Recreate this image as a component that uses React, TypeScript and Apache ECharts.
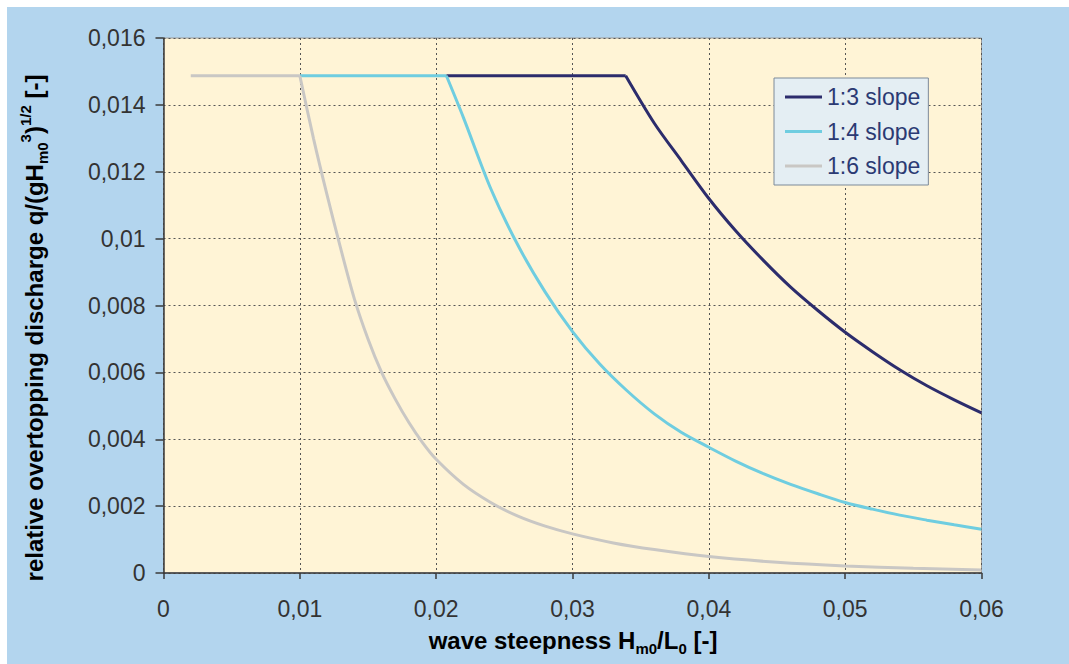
import React, { useEffect, useRef } from "react";
import * as echarts from "echarts";

// ---- data ----
const seriesNames = ["1:3 slope", "1:4 slope", "1:6 slope"];

// [wave steepness, relative overtopping discharge]; first two points = plateau
const slope13: [number, number][] = [
  [0.02075, 0.01487], [0.0339, 0.01487], [0.036, 0.01345], [0.038, 0.01232],
  [0.040, 0.0112], [0.042, 0.01022], [0.044, 0.00935], [0.046, 0.00855],
  [0.048, 0.00785], [0.050, 0.0072], [0.052, 0.00662], [0.054, 0.00608],
  [0.056, 0.0056], [0.058, 0.00518], [0.060, 0.00479],
];
const slope14: [number, number][] = [
  [0.010, 0.01487], [0.02075, 0.01487], [0.022, 0.01362], [0.024, 0.0115],
  [0.026, 0.0098], [0.028, 0.0084], [0.030, 0.00722], [0.032, 0.00625],
  [0.034, 0.00545], [0.036, 0.00476], [0.038, 0.0042], [0.040, 0.00376],
  [0.042, 0.00334], [0.044, 0.00297], [0.046, 0.00265], [0.048, 0.00237],
  [0.050, 0.00211], [0.052, 0.00191], [0.054, 0.00173], [0.056, 0.00158],
  [0.058, 0.00144], [0.060, 0.00131],
];
const slope16: [number, number][] = [
  [0.002, 0.01487], [0.010, 0.01487], [0.011, 0.0130], [0.012, 0.0113],
  [0.013, 0.0097], [0.014, 0.0082], [0.015, 0.0070], [0.016, 0.0060],
  [0.017, 0.0052], [0.018, 0.0045], [0.019, 0.0039], [0.020, 0.0034],
  [0.022, 0.00265], [0.024, 0.00211], [0.026, 0.0017], [0.028, 0.0014],
  [0.030, 0.00117], [0.033, 0.0009], [0.036, 0.0007], [0.040, 0.00049],
  [0.045, 0.00032], [0.050, 0.00021], [0.055, 0.00014], [0.060, 0.00009],
];

const xTickLabels = ["0", "0,01", "0,02", "0,03", "0,04", "0,05", "0,06"];
const yTickLabels = ["0", "0,002", "0,004", "0,006", "0,008", "0,01", "0,012", "0,014", "0,016"];

const colors = ["#2C2C6C", "#6FCDE0", "#C9C7C4"];

export default function App() {
  const ref = useRef<HTMLDivElement>(null);

  useEffect(() => {
    document.body.style.margin = "0";
    if (!ref.current) return;
    const chart = echarts.init(ref.current, null, { renderer: "svg" });
    const font = "'Liberation Sans', Arial, sans-serif";
    const nameRich = {
      b: { fontFamily: font, fontSize: 24, fontWeight: "bold", color: "#1a1a1a", lineHeight: 32, verticalAlign: "middle" },
      s: { fontFamily: font, fontSize: 15, fontWeight: "bold", color: "#1a1a1a", lineHeight: 15, verticalAlign: "bottom" },
      p: { fontFamily: font, fontSize: 15, fontWeight: "bold", color: "#1a1a1a", lineHeight: 15, verticalAlign: "top" },
    };
    const data = [slope13, slope14, slope16];
    const series: any[] = [];
    data.forEach((d, i) => {
      const common = {
        name: seriesNames[i],
        type: "line",
        showSymbol: false,
        color: colors[i],
        lineStyle: { color: colors[i], width: 3 },
        itemStyle: { color: colors[i] },
      };
      series.push({ ...common, data: d.slice(0, 2), smooth: false });
      series.push({ ...common, data: d.slice(1), smooth: 0.3 });
    });
    chart.setOption({
      animation: false,
      backgroundColor: "#B3D5EE",
      textStyle: { fontFamily: font },
      grid: {
        left: 156.5,
        right: 87.5,
        top: 31,
        bottom: 91,
        show: true,
        backgroundColor: "#FFF4D6",
        borderColor: "#9A9A9A",
        borderWidth: 1,
      },
      legend: {
        left: 767,
        top: 71,
        orient: "vertical",
        data: seriesNames,
        selectedMode: false,
        backgroundColor: "#E4EEF3",
        borderColor: "#7C8A99",
        borderWidth: 1,
        borderRadius: 0,
        padding: [7, 8, 7, 11],
        itemWidth: 37,
        itemHeight: 3,
        itemGap: 10.5,
        icon: "rect",
        textStyle: { fontFamily: font, fontSize: 23, color: "#2B3A73", lineHeight: 24 },
      },
      xAxis: {
        type: "value",
        min: 0,
        max: 0.06,
        interval: 0.01,
        axisLine: { show: true, onZero: false, lineStyle: { color: "#3A3A3A", width: 1.5 } },
        axisTick: { show: true, length: 6, lineStyle: { color: "#3A3A3A", width: 1.5 } },
        axisLabel: {
          fontFamily: font,
          fontSize: 23,
          color: "#333333",
          margin: 24,
          formatter: (v: number) => xTickLabels[Math.round(v / 0.01)] ?? "",
        },
        splitLine: { show: true, lineStyle: { color: "#555555", type: [2, 3], width: 1 } },
      },
      yAxis: {
        type: "value",
        min: 0,
        max: 0.016,
        interval: 0.002,
        axisLine: { show: true, lineStyle: { color: "#3A3A3A", width: 1.5 } },
        axisTick: { show: true, length: 8, lineStyle: { color: "#3A3A3A", width: 1.5 } },
        axisLabel: {
          fontFamily: font,
          fontSize: 23,
          color: "#333333",
          margin: 18,
          formatter: (v: number) => yTickLabels[Math.round(v / 0.002)] ?? "",
        },
        splitLine: { show: true, lineStyle: { color: "#555555", type: [2, 3], width: 1 } },
      },
      graphic: [
        {
          type: "text",
          x: 566,
          y: 633,
          style: {
            text: "{b|wave steepness H}{s|m0}{b|/L}{s|0}{b| [-]}",
            rich: nameRich,
            align: "center",
            verticalAlign: "middle",
          },
        },
        {
          type: "text",
          x: 27,
          y: 321,
          rotation: Math.PI / 2,
          style: {
            text: "{b|relative overtopping discharge q/(gH}{s|m0}{p|3}{b|)}{p|1/2}{b| [-]}",
            rich: nameRich,
            align: "center",
            verticalAlign: "middle",
          },
        },
      ],
      series,
    });
    return () => chart.dispose();
  }, []);

  return (
    <div style={{ position: "relative", width: 1069, height: 664, background: "#FFFFFF", overflow: "hidden" }}>
      <div ref={ref} style={{ position: "absolute", left: 7, top: 7, width: 1062, height: 657 }} />
    </div>
  );
}
